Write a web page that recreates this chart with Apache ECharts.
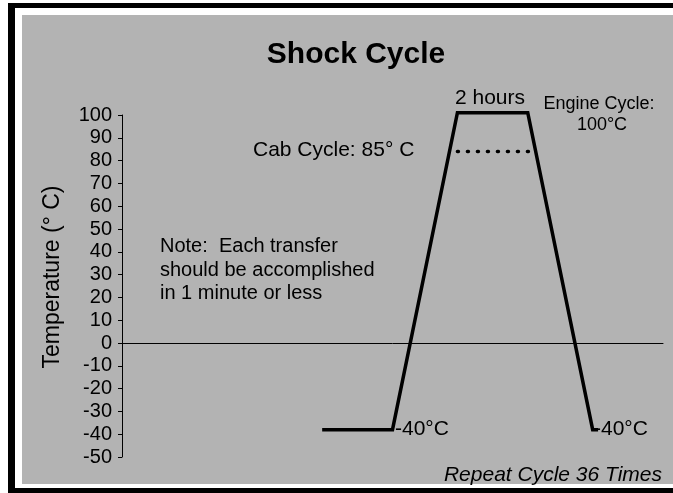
<!DOCTYPE html>
<html>
<head>
<meta charset="utf-8">
<script src="https://cdn.jsdelivr.net/npm/echarts@6/dist/echarts.min.js"></script>
<style>
  html, body { margin: 0; padding: 0; background: #fff; overflow: hidden; }
  #chart { width: 673px; height: 493px; }
</style>
</head>
<body>
<div id="chart"></div>
<script>
// 温度循环 (x 为相对时间, 无刻度)
var cycleTime = [37, 50, 62, 75, 87, 88];
var cycleTemp = [-38, -38, 101, 101, -38, -38];
// Cab Cycle 虚线
var cabTime = [62, 76];
var cabTemp = [84, 84];
// y 轴
var yMin = -50, yMax = 100, yStep = 10;

var FONT = '"Liberation Sans", Arial, Helvetica, sans-serif';

function pairs(xs, ys) {
    var out = [];
    for (var i = 0; i < xs.length; i++) {
        out.push([xs[i], ys[i]]);
    }
    return out;
}

function txt(text, x, y, size, opt) {
    opt = opt || {};
    return {
        type: 'text',
        x: x, y: y,
        rotation: opt.rotation || 0,
        z: 50,
        style: {
            text: text,
            fill: '#000',
            font: (opt.style || 'normal') + ' ' + (opt.weight || 'normal') + ' ' + size + 'px ' + FONT,
            textAlign: opt.align || 'left',
            textVerticalAlign: 'middle',
            lineHeight: opt.lineHeight
        }
    };
}

var myChart = echarts.init(document.getElementById('chart'), null, {renderer: 'canvas'});
var option = {
    backgroundColor: '#fff',
    animation: false,
    grid: {
        left: 122,
        right: 10,
        top: 115,
        bottom: 36
    },
    xAxis: {
        type: 'value',
        min: 0,
        max: 100,
        axisLine: { show: true, onZero: true, lineStyle: { color: '#000', width: 1 } },
        axisTick: { show: false },
        axisLabel: { show: false },
        splitLine: { show: false }
    },
    yAxis: {
        type: 'value',
        min: yMin,
        max: yMax,
        interval: yStep,
        axisLine: { show: true, lineStyle: { color: '#000', width: 1 } },
        axisTick: { show: true, length: 4, lineStyle: { color: '#000' } },
        axisLabel: { color: '#000', fontSize: 20, fontFamily: FONT, margin: 10 },
        splitLine: { show: false }
    },
    graphic: [
        // 外框
        { type: 'rect', z: -10, shape: { x: 8, y: 3, width: 700, height: 490 }, style: { fill: '#000' } },
        { type: 'rect', z: -9, shape: { x: 15, y: 8, width: 700, height: 480 }, style: { fill: '#fff' } },
        { type: 'rect', z: -8, shape: { x: 22, y: 15, width: 700, height: 469 }, style: { fill: '#b3b3b3' } },
        txt('Shock Cycle', 356, 55, 30, { align: 'center', weight: 'bold' }),
        txt('Temperature (° C)', 53, 277, 23, { align: 'center', rotation: Math.PI / 2 }),
        txt('Note:  Each transfer\nshould be accomplished\nin 1 minute or less', 160, 270, 20, { lineHeight: 23.5 }),
        txt('Cab Cycle: 85° C', 253, 150, 21),
        txt('2 hours', 490, 98, 21, { align: 'center' }),
        txt('Engine Cycle:', 599, 104, 18, { align: 'center' }),
        txt('100°C', 602, 125, 18, { align: 'center' }),
        txt('-40°C', 395, 429, 21),
        txt('-40°C', 594, 429, 21),
        txt('Repeat Cycle 36 Times', 662, 475, 21, { align: 'right', style: 'italic' })
    ],
    series: [
        {
            name: 'cycle',
            type: 'line',
            data: pairs(cycleTime, cycleTemp),
            symbol: 'none',
            clip: false,
            lineStyle: { color: '#000', width: 3.5, join: 'miter' },
            z: 5
        },
        {
            name: 'cab',
            type: 'line',
            data: pairs(cabTime, cabTemp),
            symbol: 'none',
            clip: false,
            lineStyle: { color: '#000', width: 3.5, type: [1, 9], cap: 'round' },
            z: 5
        }
    ]
};
myChart.setOption(option);
</script>
</body>
</html>
